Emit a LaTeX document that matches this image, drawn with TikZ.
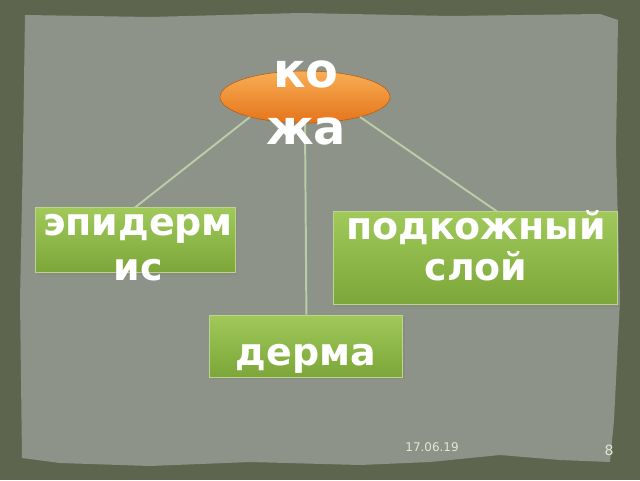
\documentclass[tikz,border=0pt]{standalone}
\usepackage{fontspec}
\setmainfont{DejaVu Sans}
\usetikzlibrary{shapes.geometric}
\usetikzlibrary{shadows}

\definecolor{boardDark}{HTML}{5E654F}
\definecolor{boardLight}{HTML}{8D9388}
\definecolor{leafTop}{HTML}{A0C95A}
\definecolor{leafBot}{HTML}{7DA63A}
\definecolor{leafEdge}{HTML}{BBD68A}
\definecolor{skinTop}{HTML}{F8AE55}
\definecolor{skinBot}{HTML}{E5741A}
\definecolor{linkCol}{HTML}{BCCBA8}
\definecolor{footCol}{HTML}{E4E6D2}

\tikzset{
  layer/.style={rectangle, draw=leafEdge, line width=0.6pt, top color=leafTop, bottom color=leafBot,
    drop shadow={opacity=0.35, shadow xshift=0.05cm, shadow yshift=-0.06cm}},
  skinshape/.style={ellipse, draw=skinBot!80!black, line width=0.4pt, top color=skinTop, bottom color=skinBot,
    minimum width=4.25cm, minimum height=1.3cm, inner sep=0pt},
  bigword/.style={text=white, align=center, anchor=base, inner sep=0pt},
  link/.style={linkCol, line width=1.4pt},
  foot/.style={text=footCol}
}

\begin{document}
\begin{tikzpicture}
    % board
    \fill[boardDark] (0,0) rectangle (16,12);
    \fill[boardLight] (0.625,11.625) -- (3.75,11.575) -- (7.5,11.675) -- (11.25,11.6) -- (15,11.65)
        -- (15.45,11.5) -- (15.4,8.25) -- (15.5,4.5) -- (15.35,1.5) -- (15.25,0.45) -- (14,0.5)
        -- (12.5,0.625) -- (10.75,0.45) -- (9,0.375) -- (6.25,0.45) -- (3.75,0.35) -- (1.5,0.425)
        -- (0.55,0.55) -- (0.5,4.5) -- (0.575,8.25) -- cycle;

    % shapes
    \node[skinshape] (skin) at (7.625,9.575) {};
    \node[layer, minimum width=5cm, minimum height=1.625cm] (epi) at (3.375,5.99) {};
    \node[layer, minimum width=7.1cm, minimum height=2.325cm] (sub) at (11.875,5.54) {};
    \node[layer, minimum width=4.825cm, minimum height=1.55cm] (derma) at (7.66,3.35) {};

    % links
    \draw[link] (skin.200) -- (epi.north);
    \draw[link] (skin.south) -- (derma.north);
    \draw[link] (skin.-20) -- ([xshift=0.55cm]sub.north);

    % words (base = last line)
    \node[bigword, font=\bfseries\fontsize{34}{41}\selectfont] (skinText) at (7.65,8.375) {ко\\жа};
    \node[bigword, font=\bfseries\fontsize{27}{32}\selectfont] (epiText) at (3.45,5.0) {эпидерм\\ис};
    \node[bigword, font=\bfseries\fontsize{27}{28.5}\selectfont] (subText) at (11.9,5.0) {подкожный\\слой};
    \node[bigword, font=\bfseries\fontsize{27}{32}\selectfont] (dermaText) at (7.65,2.875) {дерма};

    % footer
    \node[foot, font=\fontsize{8.5}{10}\selectfont] (date) at (10.8,0.825) {17.06.19};
    \node[foot, font=\fontsize{10}{12}\selectfont] (page) at (15.225,0.75) {8};
\end{tikzpicture}
\end{document}
